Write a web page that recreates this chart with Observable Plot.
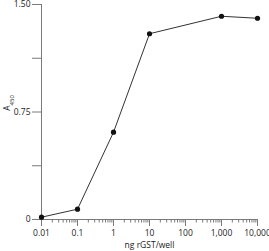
<!DOCTYPE html>
<html><head><meta charset="utf-8">
<script src="https://cdn.jsdelivr.net/npm/d3@7"></script>
<script src="https://cdn.jsdelivr.net/npm/@observablehq/plot@0.6"></script>
<style>body{margin:0;background:#fff}</style>
</head><body><div id="chart"></div>
<script>
const amounts = [0.01, 0.1, 1, 10, 1000, 10000];
const absorbance = [0.016, 0.072, 0.609, 1.296, 1.418, 1.404];
const xTicks = [0.01, 0.1, 1, 10, 100, 1000, 10000];
const xTickLabels = ["0.01", "0.1", "1", "10", "100", "1,000", "10,000"];
const yTicks = [0, 0.375, 0.75, 1.125, 1.5];
const yTickLabels = ["0", "", "0.75", "", "1.50"];
const xTitle = "ng rGST/well";
const yTitle = "A450";

const data = amounts.map((a, i) => ({a, v: absorbance[i]}));
const minor = [];
for (let e = -2; e < 4; e++) for (let k = 2; k <= 9; k++) minor.push(k * Math.pow(10, e));

const axisColor = "#7a7a7a";
const chart = Plot.plot({
  width: 269, height: 251,
  marginLeft: 41, marginRight: 12, marginTop: 4, marginBottom: 32,
  style: {fontFamily: "'Open Sans', sans-serif", fontSize: "8.5px", color: "#222", background: "#fff"},
  x: {type: "log", domain: [0.01, 10000]},
  y: {domain: [0, 1.5]},
  marks: [
    Plot.axisX(minor, {tickSize: 3.5, tickFormat: () => "", stroke: axisColor, label: null}),
    Plot.axisX(xTicks, {tickSize: 7, tickPadding: 3, stroke: axisColor, fill: "#222",
      tickFormat: d => xTickLabels[xTicks.indexOf(d)], label: null}),
    Plot.axisY(yTicks, {tickSize: 9, tickPadding: 2, stroke: axisColor, fill: "#222",
      tickFormat: d => yTickLabels[yTicks.indexOf(d)], label: null}),
    Plot.ruleX([0.01], {stroke: axisColor}),
    Plot.ruleY([0], {stroke: axisColor}),
    Plot.text([xTitle], {frameAnchor: "bottom", dy: 28, fill: "#222"}),
    Plot.text([yTitle], {frameAnchor: "left", textAnchor: "middle", dx: -34, dy: -9, rotate: -90, fill: "#222", className: "ytitle"}),
    Plot.line(data, {x: "a", y: "v", stroke: "#333", strokeWidth: 1}),
    Plot.dot(data, {x: "a", y: "v", r: 2.6, fill: "#111", stroke: "none"})
  ]
});
document.getElementById("chart").append(chart);
d3.select(chart).selectAll("g.ytitle text").each(function() {
  const t = d3.select(this);
  t.text("A");
  t.append("tspan").attr("baseline-shift", "sub").attr("font-size", "6px").text("450");
});
</script>
</body></html>
